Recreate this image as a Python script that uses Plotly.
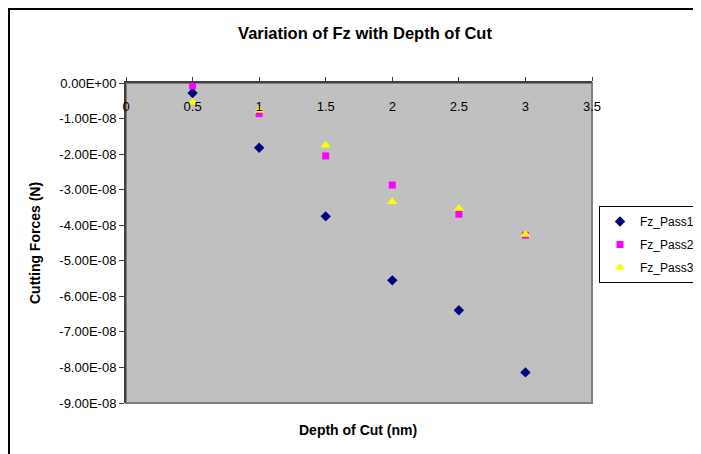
import plotly.graph_objects as go

depth = [0.5, 1.0, 1.5, 2.0, 2.5, 3.0]
fz_pass1 = [-2.8e-9, -1.82e-8, -3.75e-8, -5.55e-8, -6.39e-8, -8.14e-8]
fz_pass2 = [-0.8e-9, -8.6e-9, -2.05e-8, -2.87e-8, -3.69e-8, -4.28e-8]
fz_pass3 = [-5.4e-9, -7.7e-9, -1.75e-8, -3.34e-8, -3.53e-8, -4.26e-8]

x_ticks = [0, 0.5, 1, 1.5, 2, 2.5, 3, 3.5]
x_ticklabels = ["0", "0.5", "1", "1.5", "2", "2.5", "3", "3.5"]
y_ticks = [0, -1e-8, -2e-8, -3e-8, -4e-8, -5e-8, -6e-8, -7e-8, -8e-8, -9e-8]
y_ticklabels = ["0.00E+00", "-1.00E-08", "-2.00E-08", "-3.00E-08", "-4.00E-08",
                "-5.00E-08", "-6.00E-08", "-7.00E-08", "-8.00E-08", "-9.00E-08"]

FONT = "Liberation Sans, Arial, sans-serif"

# figure is drawn with an 8px page offset; sizes below account for it
W, H = 693, 446
L, T, PW, PH = 118, 75, 466, 320

fig = go.Figure()
fig.add_trace(go.Scatter(x=depth, y=fz_pass1, mode="markers", name="Fz_Pass1", legendgroup="p1",
                         marker=dict(symbol="diamond", color="#000080", size=8)))
fig.add_trace(go.Scatter(x=depth, y=fz_pass2, mode="markers", name="Fz_Pass2", legendgroup="p2",
                         marker=dict(symbol="square", color="#FF00FF", size=7)))
fig.add_trace(go.Scatter(x=depth, y=fz_pass3, mode="markers", name="Fz_Pass3", legendgroup="p3",
                         marker=dict(symbol="triangle-up", color="#FFFF00", size=9)))
# empty helper trace so the label axis (drawn just below the top axis line) is rendered
fig.add_trace(go.Scatter(x=[], y=[], xaxis="x2", yaxis="y", mode="markers",
                         showlegend=False, hoverinfo="skip"))

fig.update_layout(
    width=W, height=H,
    margin=dict(l=L, r=W - L - PW, t=T, b=H - T - PH, autoexpand=False),
    paper_bgcolor="white",
    plot_bgcolor="#C0C0C0",
    font=dict(family=FONT, size=13, color="black"),
    title=dict(text="<b>Variation of Fz with Depth of Cut</b>", x=357 / W, xanchor="center",
               y=1 - 25 / H, yanchor="middle", font=dict(size=16.5, family=FONT)),
    showlegend=True,
    legend=dict(xref="container", yref="container", x=591 / W, y=1 - 198 / H,
                xanchor="left", yanchor="top", tracegroupgap=4,
                bordercolor="black", borderwidth=1, bgcolor="white",
                font=dict(size=12, family=FONT), itemwidth=30),
    xaxis=dict(range=[0, 3.5], side="top", tickvals=x_ticks, showticklabels=False,
               ticks="outside", ticklen=4, tickcolor="#404040",
               showline=True, linecolor="#404040", linewidth=2, showgrid=False,
               zeroline=False),
    xaxis2=dict(range=[0, 3.5], overlaying="x", anchor="free", side="bottom",
                position=(T + PH - 89) / PH, tickvals=x_ticks, ticktext=x_ticklabels,
                ticks="", showline=False, showgrid=False, zeroline=False,
                tickfont=dict(size=13, family=FONT)),
    yaxis=dict(range=[-9e-8, 0], tickvals=y_ticks, ticktext=y_ticklabels,
               ticks="outside", ticklen=5, tickcolor="#404040",
               showline=True, linecolor="#404040", linewidth=2, showgrid=False,
               zeroline=False, tickfont=dict(size=13, family=FONT)),
    shapes=[
        dict(type="rect", xref="paper", yref="paper", x0=0, x1=1, y0=0, y1=1,
             line=dict(color="#808080", width=2), fillcolor="rgba(0,0,0,0)", layer="below"),
        dict(type="rect", xref="paper", yref="paper",
             x0=(1 - L) / PW, x1=(W + 20 - L) / PW, y0=-(H + 20 - T - PH) / PH, y1=(T + PH - 1) / PH,
             line=dict(color="black", width=2), fillcolor="rgba(0,0,0,0)"),
    ],
    annotations=[
        dict(text="<b>Depth of Cut (nm)</b>", xref="paper", yref="paper",
             x=(350 - L) / PW, y=(T + PH - 422) / PH,
             xanchor="center", yanchor="middle", showarrow=False, font=dict(size=14, family=FONT)),
        dict(text="<b>Cutting Forces (N)</b>", xref="paper", yref="paper",
             x=(27 - L) / PW, y=0.5,
             xanchor="center", yanchor="middle", textangle=-90, showarrow=False,
             font=dict(size=14, family=FONT)),
    ],
)

fig.write_html("out.html")
